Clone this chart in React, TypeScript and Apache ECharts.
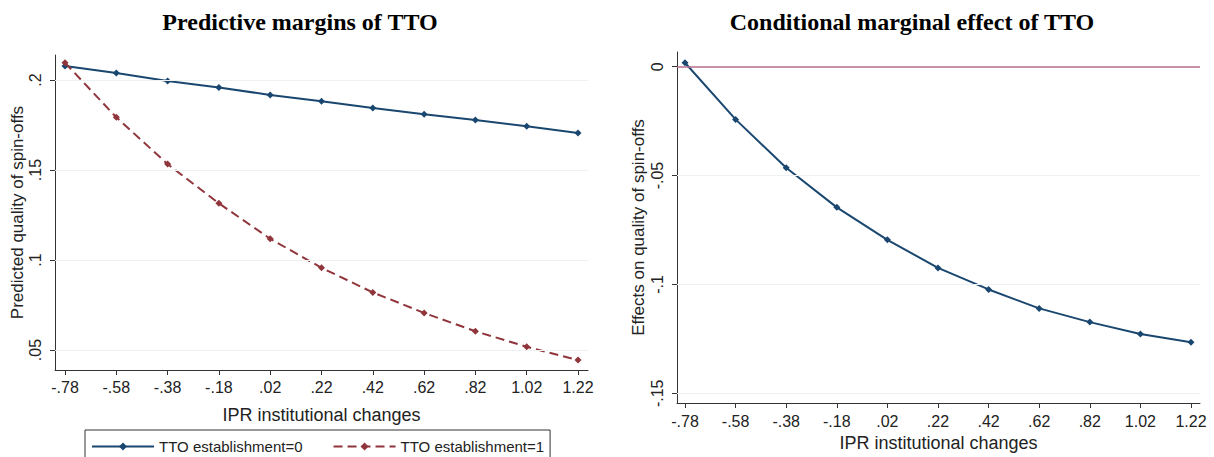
import React, { useEffect, useRef } from "react";
import * as echarts from "echarts";

// x positions (IPR institutional changes) and their tick labels
const xValues = [-0.78, -0.58, -0.38, -0.18, 0.02, 0.22, 0.42, 0.62, 0.82, 1.02, 1.22];
const xTickLabels = ["-.78", "-.58", "-.38", "-.18", ".02", ".22", ".42", ".62", ".82", "1.02", "1.22"];

// Left panel: predictive margins
const tto0 = [0.2078, 0.2039, 0.1994, 0.1959, 0.1917, 0.1882, 0.1844, 0.181, 0.1778, 0.1743, 0.1706];
const tto1 = [0.2096, 0.1793, 0.1533, 0.1315, 0.1118, 0.0957, 0.082, 0.0706, 0.0604, 0.0518, 0.0444];
const leftYTicks = [0.05, 0.1, 0.15, 0.2];
const leftYTickLabels = [".05", ".1", ".15", ".2"];

// Right panel: conditional marginal effect
const effect = [0.0018, -0.0242, -0.0464, -0.0646, -0.0795, -0.0924, -0.1023, -0.111, -0.1173, -0.1228, -0.1265];
const rightYTicks = [-0.15, -0.1, -0.05, 0];
const rightYTickLabels = ["-.15", "-.1", "-.05", "0"];

const seriesNames = ["TTO establishment=0", "TTO establishment=1"];
const titles = ["Predictive margins of TTO", "Conditional marginal effect of TTO"];
const xName = "IPR institutional changes";
const yNames = ["Predicted quality of spin-offs", "Effects on quality of spin-offs"];

const BLUE = "#1a476f";
const RED = "#90353b";
const GRID = "#edf1f2";
const AXIS = "#333";
const SANS = "Liberation Sans, Arial, sans-serif";
const SERIF = "Liberation Serif, Times New Roman, serif";

const lookup = (vals: number[], labels: string[]) => (v: number) => {
  const i = vals.findIndex((t) => Math.abs(t - v) < 1e-6);
  return i >= 0 ? labels[i] : "";
};

export default function App() {
  const ref = useRef<HTMLDivElement>(null);

  useEffect(() => {
    if (!ref.current) return;
    const chart = echarts.init(ref.current, undefined, { renderer: "svg" });

    const xAxisCommon = (gridIndex: number, min: number, max: number, labelMargin: number, nameGap: number) => ({
      type: "value",
      gridIndex,
      min,
      max,
      name: xName,
      nameLocation: "middle",
      nameGap,
      nameTextStyle: { fontFamily: SANS, fontSize: 18, color: "#222" },
      axisLine: { show: true, onZero: false, lineStyle: { color: AXIS, width: 1 } },
      axisTick: { show: true, inside: false, length: 5, customValues: xValues, lineStyle: { color: AXIS } },
      axisLabel: {
        show: true,
        customValues: xValues,
        margin: labelMargin,
        fontFamily: SANS,
        fontSize: 16,
        color: "#222",
        formatter: lookup(xValues, xTickLabels),
      },
      splitLine: { show: false },
    });

    const yAxisCommon = (
      gridIndex: number,
      min: number,
      max: number,
      ticks: number[],
      labels: string[],
      name: string,
      nameGap: number
    ) => ({
      type: "value",
      gridIndex,
      min,
      max,
      name,
      nameLocation: "middle",
      nameGap,
      nameTextStyle: { fontFamily: SANS, fontSize: 17, color: "#222" },
      axisLine: { show: true, onZero: false, lineStyle: { color: AXIS, width: 1 } },
      axisTick: { show: true, inside: false, length: 5, customValues: ticks, lineStyle: { color: AXIS } },
      axisLabel: {
        show: true,
        customValues: ticks,
        rotate: 90,
        margin: 12,
        fontFamily: SANS,
        fontSize: 16,
        color: "#222",
        formatter: lookup(ticks, labels),
      },
      splitLine: { show: false },
    });

    const gridLines = (ticks: number[]) => ({
      silent: true,
      symbol: ["none", "none"],
      label: { show: false },
      lineStyle: { color: GRID, type: "solid", width: 1 },
      emphasis: { disabled: true },
      data: ticks.map((t) => ({ yAxis: t })),
    });

    const option: any = {
      animation: false,
      backgroundColor: "#fff",
      title: [
        {
          text: titles[0],
          left: 300,
          top: 10,
          padding: 0,
          textAlign: "center",
          textStyle: { fontFamily: SERIF, fontWeight: "bold", fontSize: 24, color: "#000" },
        },
        {
          text: titles[1],
          left: 912,
          top: 10,
          padding: 0,
          textAlign: "center",
          textStyle: { fontFamily: SERIF, fontWeight: "bold", fontSize: 24, color: "#000" },
        },
      ],
      grid: [
        { left: 55, top: 55, width: 533, height: 315 },
        { left: 677, top: 52, width: 523, height: 351 },
      ],
      legend: {
        data: seriesNames,
        left: 85,
        top: 430,
        padding: [9, 6, 14, 6],
        itemGap: 30,
        itemWidth: 62,
        itemHeight: 10,
        borderColor: "#333",
        borderWidth: 1,
        borderRadius: 0,
        textStyle: { fontFamily: SANS, fontSize: 15, color: "#222" },
      },
      xAxis: [
        xAxisCommon(0, -0.819, 1.259, 9, 36),
        xAxisCommon(1, -0.8116, 1.2556, 10, 31),
      ],
      yAxis: [
        yAxisCommon(0, 0.0389, 0.2139, leftYTicks, leftYTickLabels, yNames[0], 28),
        yAxisCommon(1, -0.15445, 0.00675, rightYTicks, rightYTickLabels, yNames[1], 30),
      ],
      series: [
        {
          name: seriesNames[0],
          type: "line",
          xAxisIndex: 0,
          yAxisIndex: 0,
          data: xValues.map((x, i) => [x, tto0[i]]),
          symbol: "diamond",
          symbolSize: 7,
          showSymbol: true,
          lineStyle: { color: BLUE, width: 2 },
          itemStyle: { color: BLUE },
          z: 3,
          markLine: gridLines(leftYTicks),
        },
        {
          name: seriesNames[1],
          type: "line",
          xAxisIndex: 0,
          yAxisIndex: 0,
          data: xValues.map((x, i) => [x, tto1[i]]),
          symbol: "diamond",
          symbolSize: 7,
          showSymbol: true,
          lineStyle: { color: RED, width: 2, type: [9, 5] },
          itemStyle: { color: RED },
          z: 4,
        },
        {
          name: "effect",
          type: "line",
          xAxisIndex: 1,
          yAxisIndex: 1,
          data: xValues.map((x, i) => [x, effect[i]]),
          symbol: "diamond",
          symbolSize: 7,
          showSymbol: true,
          lineStyle: { color: BLUE, width: 2 },
          itemStyle: { color: BLUE },
          z: 4,
          markLine: {
            silent: true,
            symbol: ["none", "none"],
            label: { show: false },
            emphasis: { disabled: true },
            data: [
              ...rightYTicks.filter((t) => t !== 0).map((t) => ({ yAxis: t, lineStyle: { color: GRID, type: "solid", width: 1 } })),
              { yAxis: 0, lineStyle: { color: "#b66d8b", type: "solid", width: 1.6 } },
            ],
          },
        },
      ],
    };

    chart.setOption(option);
    return () => chart.dispose();
  }, []);

  return (
    <div
      ref={ref}
      style={{ position: "fixed", left: 0, top: 0, width: 1214, height: 457, background: "#fff" }}
    />
  );
}
